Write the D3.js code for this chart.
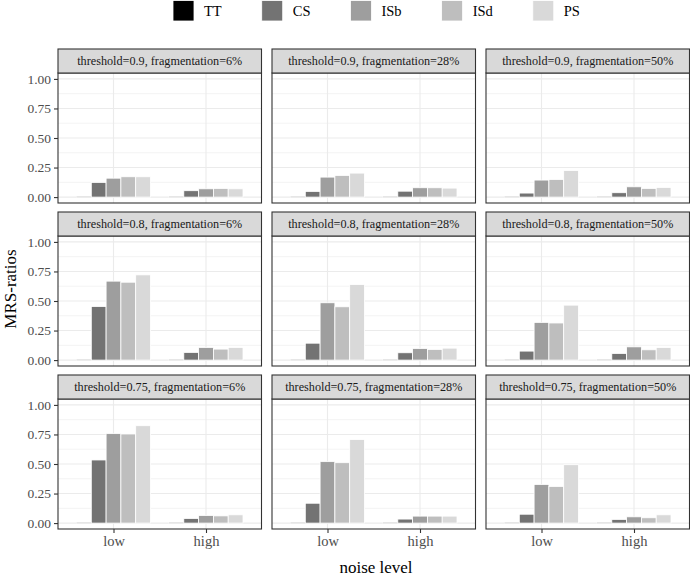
<!DOCTYPE html>
<html>
<head>
<meta charset="utf-8">
<script src="https://cdn.jsdelivr.net/npm/d3@7"></script>
<style>
  html, body { margin: 0; padding: 0; background: #fff; }
  svg { display: block; }
  svg text { font-family: "Liberation Serif", "DejaVu Serif", serif !important; }
</style>
</head>
<body>
<svg id="chart" width="690" height="578"></svg>
<script>
// ---- data ----
const methods = ["TT", "CS", "ISb", "ISd", "PS"];
const noiseLevels = ["low", "high"];
const thresholds = ["0.9", "0.8", "0.75"];
const fragmentations = ["6%", "28%", "50%"];
const yTicks = [0, 0.25, 0.5, 0.75, 1];
const yTickLabels = ["0.00", "0.25", "0.50", "0.75", "1.00"];
const fillColors = ["#000000", "#737373", "#9e9e9e", "#bebebe", "#d9d9d9"];

// panel order: (0.9,6%),(0.9,28%),(0.9,50%),(0.8,6%),(0.8,28%),(0.8,50%),(0.75,6%),(0.75,28%),(0.75,50%)
const ttLow   = [0.003, 0.003, 0.003, 0.003, 0.003, 0.003, 0.003, 0.003, 0.003];
const ttHigh  = [0.003, 0.003, 0.003, 0.003, 0.003, 0.003, 0.003, 0.003, 0.003];
const csLow   = [0.124, 0.048, 0.034, 0.453, 0.143, 0.076, 0.534, 0.168, 0.075];
const csHigh  = [0.054, 0.050, 0.037, 0.065, 0.062, 0.056, 0.039, 0.034, 0.031];
const isbLow  = [0.160, 0.169, 0.144, 0.668, 0.485, 0.319, 0.757, 0.520, 0.327];
const isbHigh = [0.070, 0.079, 0.087, 0.107, 0.098, 0.112, 0.064, 0.059, 0.053];
const isdLow  = [0.172, 0.183, 0.149, 0.659, 0.451, 0.314, 0.754, 0.511, 0.310];
const isdHigh = [0.073, 0.079, 0.073, 0.093, 0.090, 0.087, 0.061, 0.059, 0.045];
const psLow   = [0.172, 0.203, 0.225, 0.721, 0.639, 0.465, 0.824, 0.707, 0.494];
const psHigh  = [0.070, 0.076, 0.082, 0.107, 0.101, 0.106, 0.070, 0.059, 0.070];

const lowByMethod = [ttLow, csLow, isbLow, isdLow, psLow];
const highByMethod = [ttHigh, csHigh, isbHigh, isdHigh, psHigh];

// ---- layout ----
const FONT = '"Liberation Serif", "DejaVu Serif", serif';
const svg = d3.select("#chart");
const panelLeft0 = 58, panelPitchX = 214, panelW = 203.5;
const stripTop0 = 49, panelPitchY = 163, stripH = 24, panelH = 130;

const color = d3.scaleOrdinal().domain(methods).range(fillColors);

// x: discrete positions 1,2 with 0.6 expansion
const xCont = d3.scaleLinear().domain([0.4, 2.6]).range([0, panelW]);
const step = xCont(2) - xCont(1);
const inner = d3.scaleBand().domain(methods).range([-0.4 * step, 0.4 * step]).padding(0);
const y = d3.scaleLinear().domain([-0.05, 1.05]).range([panelH, 0]);
const minorTicks = [0.125, 0.375, 0.625, 0.875];

thresholds.forEach((th, r) => {
  fragmentations.forEach((fr, c) => {
    const p = r * 3 + c;
    const px = panelLeft0 + c * panelPitchX;
    const sy = stripTop0 + r * panelPitchY;
    const py = sy + stripH;
    const g = svg.append("g").attr("transform", `translate(${px},${py})`);

    g.append("rect").attr("width", panelW).attr("height", panelH).attr("fill", "#fff");
    g.selectAll(".minor").data(minorTicks).enter().append("line")
      .attr("x1", 0).attr("x2", panelW)
      .attr("y1", d => y(d)).attr("y2", d => y(d))
      .attr("stroke", "#ebebeb").attr("stroke-width", 0.6);
    g.selectAll(".major").data(yTicks).enter().append("line")
      .attr("x1", 0).attr("x2", panelW)
      .attr("y1", d => y(d)).attr("y2", d => y(d))
      .attr("stroke", "#ebebeb").attr("stroke-width", 1.1);
    g.selectAll(".vmajor").data(noiseLevels).enter().append("line")
      .attr("x1", (d, i) => xCont(i + 1)).attr("x2", (d, i) => xCont(i + 1))
      .attr("y1", 0).attr("y2", panelH)
      .attr("stroke", "#ebebeb").attr("stroke-width", 1.1);

    const rows = [];
    noiseLevels.forEach((nl, ni) => {
      methods.forEach((m, mi) => {
        const v = (ni === 0 ? lowByMethod : highByMethod)[mi][p];
        rows.push({ pos: ni + 1, method: m, value: v });
      });
    });
    g.selectAll(".bar").data(rows).enter().append("rect")
      .attr("x", d => xCont(d.pos) + inner(d.method))
      .attr("width", inner.bandwidth())
      .attr("y", d => y(d.value))
      .attr("height", d => y(0) - y(d.value))
      .attr("fill", d => color(d.method))
      .attr("stroke", "#ffffff").attr("stroke-width", 0.8);

    g.append("rect").attr("width", panelW).attr("height", panelH)
      .attr("fill", "none").attr("stroke", "#333333").attr("stroke-width", 1.1);

    const s = svg.append("g").attr("transform", `translate(${px},${sy})`);
    s.append("rect").attr("width", panelW).attr("height", stripH)
      .attr("fill", "#d9d9d9").attr("stroke", "#333333").attr("stroke-width", 1.1);
    s.append("text").attr("x", panelW / 2).attr("y", stripH / 2 + 4)
      .attr("text-anchor", "middle").style("font-family", FONT).style("font-size", "12.2px")
      .attr("fill", "#1a1a1a")
      .text(`threshold=${th}, fragmentation=${fr}`);

    if (c === 0) {
      const ax = g.append("g").call(d3.axisLeft(y).tickValues(yTicks)
        .tickFormat((d, i) => yTickLabels[i]).tickSize(4).tickPadding(3));
      ax.attr("font-family", null).attr("font-size", null);
      ax.select(".domain").remove();
      ax.selectAll(".tick line").attr("stroke", "#333333").attr("stroke-width", 1.1);
      ax.selectAll(".tick text").style("font-size", "13.5px").attr("fill", "#4d4d4d")
        .style("font-family", FONT);
    }
    if (r === 2) {
      const xb = d3.scalePoint().domain(noiseLevels).range([xCont(1), xCont(2)]);
      const ax = g.append("g").attr("transform", `translate(0,${panelH})`)
        .call(d3.axisBottom(xb).tickSize(4).tickPadding(3));
      ax.attr("font-family", null).attr("font-size", null);
      ax.select(".domain").remove();
      ax.selectAll(".tick line").attr("stroke", "#333333").attr("stroke-width", 1.1);
      ax.selectAll(".tick text").style("font-size", "14.5px").attr("fill", "#4d4d4d")
        .style("font-family", FONT);
    }
  });
});

svg.append("text").attr("x", 376).attr("y", 573).attr("text-anchor", "middle")
  .style("font-family", FONT).style("font-size", "17px").attr("fill", "#000").text("noise level");
svg.append("text").attr("transform", "translate(16,289) rotate(-90)")
  .attr("text-anchor", "middle").style("font-family", FONT).style("font-size", "17px")
  .attr("fill", "#000").text("MRS-ratios");

const leg = svg.append("g");
let lx = 173;
methods.forEach((m, i) => {
  leg.append("rect").attr("x", lx).attr("y", 0.5).attr("width", 21).attr("height", 20.5)
    .attr("fill", color(m)).attr("stroke", "#fff").attr("stroke-width", 0.8);
  const t = leg.append("text").attr("x", lx + 31).attr("y", 15.5)
    .style("font-family", FONT).style("font-size", "14.5px").attr("fill", "#000").text(m);
  const w = t.node().getComputedTextLength();
  lx += 31 + w + 40;
});
</script>
</body>
</html>
